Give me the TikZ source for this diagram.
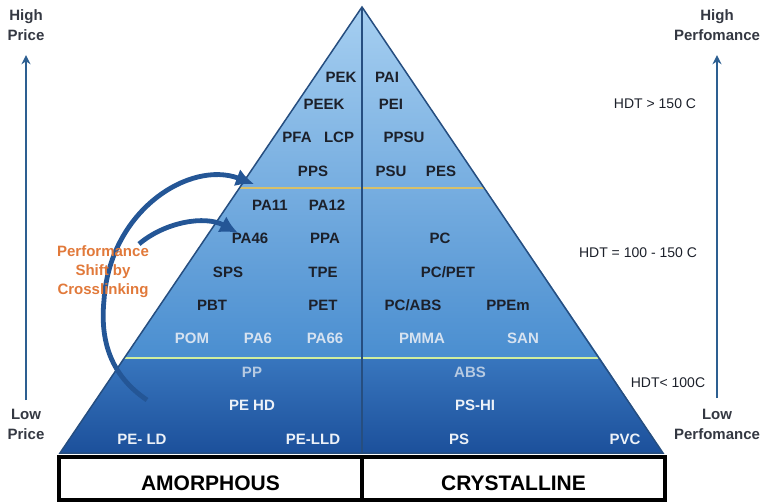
\documentclass[tikz,border=0pt]{standalone}
\usepackage{fontspec}
\setmainfont{Liberation Sans}
\usetikzlibrary{shapes, arrows.meta, positioning}

\definecolor{skyblue}{RGB}{166,207,241}
\definecolor{midblue}{RGB}{146,193,233}
\definecolor{deepblue}{RGB}{74,142,208}
\definecolor{bandtop}{RGB}{56,118,190}
\definecolor{bandbottom}{RGB}{28,80,155}
\definecolor{edgeblue}{RGB}{38,78,128}
\definecolor{arcblue}{RGB}{36,86,150}
\definecolor{axisblue}{RGB}{45,95,145}
\definecolor{goldline}{RGB}{215,192,105}
\definecolor{limeline}{RGB}{208,238,158}
\definecolor{inkdark}{RGB}{28,32,42}
\definecolor{inkpale}{RGB}{214,226,240}
\definecolor{inkgrey}{RGB}{182,202,226}
\definecolor{inkwhite}{RGB}{236,241,248}
\definecolor{inkaxis}{RGB}{52,56,66}
\definecolor{shiftorange}{RGB}{225,121,58}

\begin{document}
\begin{tikzpicture}[x=1pt, y=-1pt,
    poly/.style={font=\bfseries\fontsize{15}{15}\selectfont, text=inkdark, inner sep=0pt, text height=10.7pt, text depth=0pt},
    hdt/.style={font=\fontsize{14}{14}\selectfont, text=inkdark, inner sep=0pt, text height=10pt, text depth=0pt},
    axislabel/.style={font=\bfseries\fontsize{15}{20}\selectfont, text=inkaxis, align=center, inner sep=0pt},
    axisline/.style={axisblue, line width=2pt, -{Stealth[length=9pt, width=9pt]}},
    shiftarc/.style={arcblue, line width=4.8pt, -{Latex[length=18pt, width=18pt]}},
    classbox/.style={rectangle, draw, line width=3.5pt, minimum width=303pt, minimum height=43pt, font=\bfseries\fontsize{21}{21}\selectfont, text height=24pt, text depth=0pt}]
        \useasboundingbox (0,0) rectangle (765,503);

        % Pyramid body
        \shade[top color=skyblue, middle color=midblue, bottom color=deepblue]
            (362,7) -- (600,358) -- (124,358) -- cycle;
        \shade[top color=bandtop, bottom color=bandbottom]
            (124,358) -- (600,358) -- (663,453) -- (60,453) -- cycle;
        \draw[goldline, line width=2.5pt] (239,188) -- (484,188);
        \draw[limeline, line width=2.5pt] (124,358) -- (600,358);
        \draw[edgeblue, line width=1.5pt] (362,7) -- (663,453) -- (60,453) -- cycle;
        \draw[edgeblue, line width=1.5pt] (362,7) -- (362,453);

        % HDT > 150 C
        \node[poly] (pek) at (341,77) {PEK};
        \node[poly, right of=pek, node distance=46pt] (pai) {PAI};
        \node[poly] (peek) at (324,104) {PEEK};
        \node[poly, right of=peek, node distance=67pt] (pei) {PEI};
        \node[poly] (pfa) at (297,137) {PFA};
        \node[poly, right of=pfa, node distance=42pt] (lcp) {LCP};
        \node[poly] (ppsu) at (404,137) {PPSU};
        \node[poly] (pps) at (313,171) {PPS};
        \node[poly] (psu) at (391,171) {PSU};
        \node[poly, right of=psu, node distance=50pt] (pes) {PES};

        % HDT = 100 - 150 C
        \node[poly] (pa11) at (270,205) {PA11};
        \node[poly, right of=pa11, node distance=57pt] (pa12) {PA12};
        \node[poly] (pa46) at (250,238) {PA46};
        \node[poly, right of=pa46, node distance=75pt] (ppa) {PPA};
        \node[poly] (sps) at (228,272) {SPS};
        \node[poly, right of=sps, node distance=95pt] (tpe) {TPE};
        \node[poly] (pbt) at (212,305) {PBT};
        \node[poly, right of=pbt, node distance=111pt] (pet) {PET};
        \node[poly, text=inkpale] (pom) at (192,338) {POM};
        \node[poly, text=inkpale, right of=pom, node distance=66pt] (pa6) {PA6};
        \node[poly, text=inkpale, right of=pa6, node distance=67pt] (pa66) {PA66};
        \node[poly] (pc) at (440,238) {PC};
        \node[poly] (pcpet) at (448,272) {PC/PET};
        \node[poly] (pcabs) at (413,305) {PC/ABS};
        \node[poly, right of=pcabs, node distance=95pt] (ppem) {PPEm};
        \node[poly, text=inkpale] (pmma) at (422,338) {PMMA};
        \node[poly, text=inkpale, right of=pmma, node distance=101pt] (san) {SAN};

        % HDT < 100 C
        \node[poly, text=inkgrey] (pp) at (252,372) {PP};
        \node[poly, text=inkgrey] (abs) at (470,372) {ABS};
        \node[poly, text=inkwhite] (pehd) at (252,405) {PE HD};
        \node[poly, text=inkwhite] (pshi) at (475,405) {PS-HI};
        \node[poly, text=inkwhite] (peld) at (142,439) {PE- LD};
        \node[poly, text=inkwhite, right of=peld, node distance=171pt] (pelld) {PE-LLD};
        \node[poly, text=inkwhite] (ps) at (459,439) {PS};
        \node[poly, text=inkwhite, right of=ps, node distance=166pt] (pvc) {PVC};

        % Classes
        \node[classbox] (amorph) at (210.5,478.5) {AMORPHOUS};
        \node[classbox, right of=amorph, node distance=303pt] (cryst) {CRYSTALLINE};

        % Temperature bands
        \node[hdt] (hdthigh) at (655,103) {HDT > 150 C};
        \node[hdt] (hdtmid) at (638,252) {HDT = 100 - 150 C};
        \node[hdt] (hdtlow) at (668,382) {HDT< 100C};

        % Axes
        \node[axislabel] (highprice) at (26,25.5) {High\\Price};
        \node[axislabel] (lowprice) at (26,424.5) {Low\\Price};
        \node[axislabel] (highperf) at (717,25.5) {High\\Perfomance};
        \node[axislabel] (lowperf) at (717,424.5) {Low\\Perfomance};
        \draw[axisline, shorten <=9pt, shorten >=14pt] (lowprice) -- (highprice);
        \draw[axisline, shorten <=11pt, shorten >=14pt] (lowperf) -- (highperf);

        % Crosslinking shift
        \coordinate (arcAstart) at (147,400);
        \coordinate (arcAend) at (254,184);
        \coordinate (arcBstart) at (139,244);
        \coordinate (arcBend) at (238,233);
        \draw[shiftarc] (arcAstart) .. controls (110,375) and (100,340) .. (104,300)
            .. controls (110,210) and (190,160) .. (arcAend);
        \draw[shiftarc] (arcBstart) .. controls (165,222) and (205,215) .. (arcBend);
        \node[axislabel, text=shiftorange, font=\bfseries\fontsize{15}{19}\selectfont] (shift) at (103,272) {Performance\\Shift by\\Crosslinking};
    \end{tikzpicture}
\end{document}
